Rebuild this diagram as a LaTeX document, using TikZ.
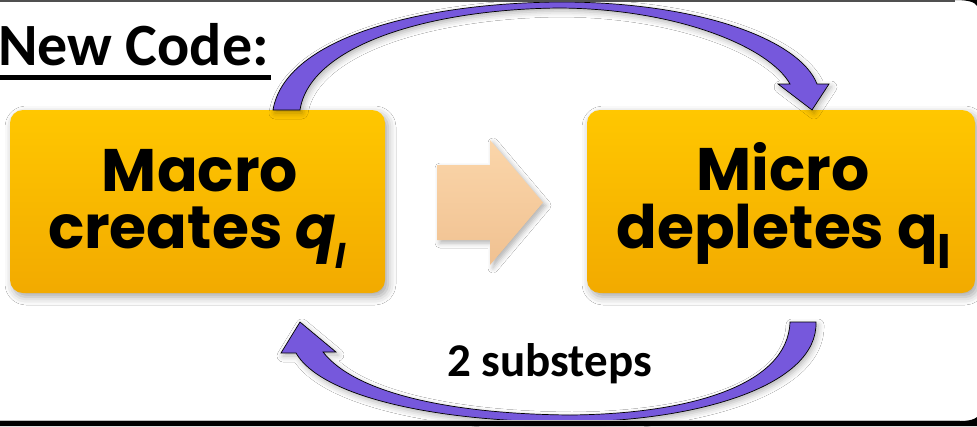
\documentclass[tikz,border=0pt]{standalone}
\usepackage{fontspec}
\usetikzlibrary{shadows.blur}
\newfontfamily\boxfont{Poppins}
\newfontfamily\calfont{Carlito}

\definecolor{ytop}{RGB}{255,199,0}
\definecolor{ybot}{RGB}{242,170,0}
\definecolor{ptop}{RGB}{251,214,170}
\definecolor{pbot}{RGB}{240,193,145}
\definecolor{purp}{RGB}{118,88,220}
\definecolor{framegray}{RGB}{80,80,80}

\tikzset{
  ybox/.style={draw=none, rounded corners=13pt, top color=ytop, bottom color=ybot,
    minimum height=183pt, inner sep=0pt,
    blur shadow={shadow xshift=3pt, shadow yshift=-4pt, shadow blur radius=8pt, shadow opacity=35}},
  boxtext/.style={anchor=base, inner sep=0pt, font=\boxfont\bfseries\fontsize{60}{60}\selectfont},
  ribbon/.style={fill=purp, draw=black, line width=0.7pt, line join=miter,
    blur shadow={shadow xshift=2pt, shadow yshift=-3pt, shadow blur radius=6pt, shadow opacity=30}},
  peach/.style={top color=ptop, bottom color=pbot, draw=none,
    blur shadow={shadow xshift=3pt, shadow yshift=-3pt, shadow blur radius=5pt, shadow opacity=30}},
}

\begin{document}
\begin{tikzpicture}[x=1pt, y=-1pt]
\useasboundingbox (0,0) rectangle (977,426);
\fill[white] (-10,-10) rectangle (990,436);

% heading
\node[anchor=base west, inner sep=0pt, font=\calfont\bfseries\fontsize{60}{60}\selectfont]
  (title) at (-2,65) {New Code:};
\fill[black] (0,75) rectangle (271,80);

% the two steps
\node[ybox, minimum width=375pt] (macro) at (197.5,201.5) {};
\node[ybox, minimum width=388pt] (micro) at (781,201.5) {};

\node[boxtext] (macro1) at (200,191) {Macro};
\node[boxtext] (macro2) at (197,248) {creates \textit{q}\raisebox{-20pt}{\fontsize{34}{34}\selectfont\itshape l}};
\node[boxtext] (micro1) at (783,190) {Micro};
\node[boxtext] (micro2) at (784,248) {depletes q\raisebox{-20pt}{\fontsize{46}{46}\selectfont l}};

% block arrow between the boxes
\path[peach] (437,165) -- (490,165) -- (490,140) -- (543,202.5) -- (490,265)
  -- (490,240) -- (437,240) -- cycle;

% curved arrow over the top: macro -> micro
\path[ribbon] (273,110) .. controls (285,38) and (420,3) .. (560,2)
  .. controls (700,2) and (800,40) .. (817,84)
  -- (829,84) -- (812,110) -- (778,84) -- (790,84)
  .. controls (770,48) and (680,9) .. (560,8)
  .. controls (430,9) and (310,45) .. (300,110) -- cycle;

% curved arrow underneath: micro -> macro
\path[ribbon] (816,322) .. controls (818,385) and (700,421) .. (570,422)
  .. controls (430,422) and (320,395) .. (296,353)
  -- (281,353) -- (300,322) -- (336,352) -- (323,352)
  .. controls (355,393) and (450,414) .. (570,415)
  .. controls (690,414) and (788,385) .. (790,322) -- cycle;

\node[anchor=base, inner sep=0pt, font=\calfont\bfseries\fontsize{47}{47}\selectfont]
  (sub) at (549.5,376) {2 substeps};

% frame: thin rule on top, rounded black edge at the bottom
\draw[framegray, line width=2pt] (0,1) -- (955,1);
\fill[black] (955,0) .. controls (968,0) and (975,2) .. (977,6) -- (977,0) -- cycle;
\draw[black!25, line width=1pt] (0,420) -- (960,420);
\fill[black] (0,421) -- (960,421) .. controls (970,421) and (975,419) .. (977,417)
  -- (977,426) -- (0,426) -- cycle;
\end{tikzpicture}
\end{document}
